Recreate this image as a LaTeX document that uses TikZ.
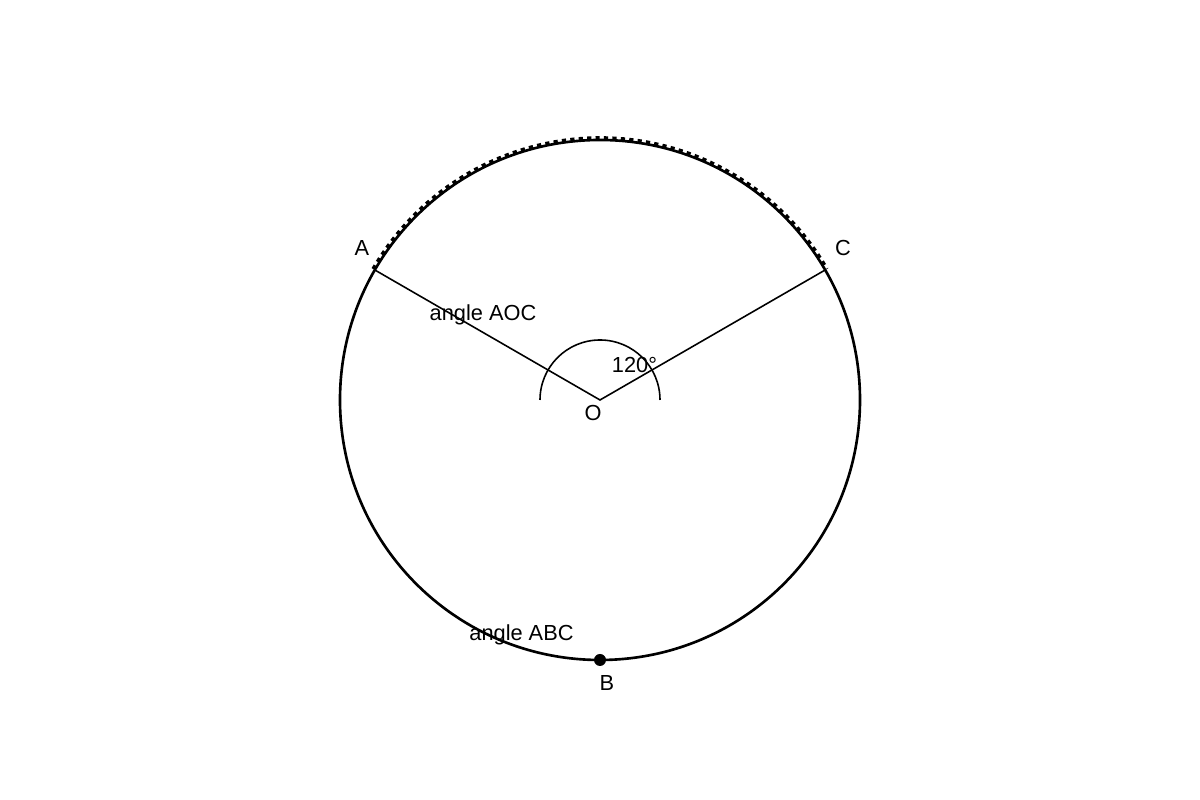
\documentclass[tikz,border=0pt]{standalone}
\usepackage{fontspec}
\setmainfont{Liberation Sans}
\usetikzlibrary{calc}
\begin{document}
\begin{tikzpicture}[x=1cm,y=1cm,
  lbl/.style={font=\fontsize{6.2pt}{7pt}\selectfont, inner sep=0pt},
  rim/.style={line width=0.75pt},
  radius line/.style={line width=0.45pt}]
\useasboundingbox (0,0) rectangle (12,8);
\coordinate (O) at (6,4);
\coordinate (A) at ($(O)+(150:2.6)$);
\coordinate (C) at ($(O)+(30:2.6)$);
\coordinate (B) at (6,1.4);
\draw[rim] (O) circle (2.6);
\draw[line width=1pt, dash pattern=on 1.2pt off 1.2pt] ($(O)+(150:2.62)$) arc (150:30:2.62);
\draw[radius line] (A) -- (O) -- (C);
\draw[radius line] ($(O)+(0.6,0)$) arc (0:180:0.6);
\fill (B) circle (0.06);
\node[lbl] (la) at (3.62,5.52) {A};
\node[lbl] (lc) at (8.43,5.52) {C};
\node[lbl] (lo) at (5.93,3.87) {O};
\node[lbl] (lb) at (6.07,1.17) {B};
\node[lbl] (l120) at (6.345,4.35) {120°};
\node[lbl] (laoc) at (4.83,4.85) {angle AOC};
\node[lbl] (labc) at (5.215,1.65) {angle ABC};
\end{tikzpicture}
\end{document}
